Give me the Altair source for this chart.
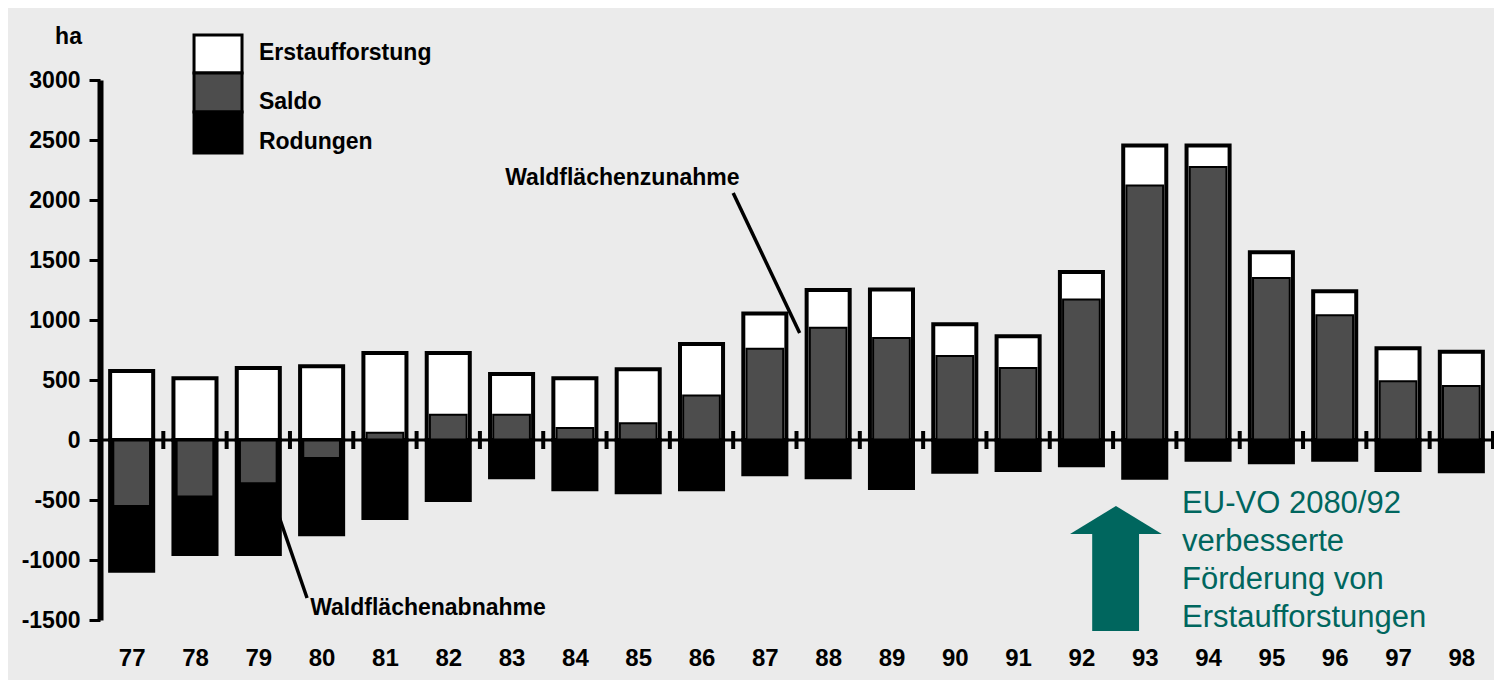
import altair as alt
import pandas as pd

# ---------------- data ----------------
years = [77, 78, 79, 80, 81, 82, 83, 84, 85, 86, 87, 88, 89, 90, 91, 92, 93, 94, 95, 96, 97, 98]
erstaufforstung = [575, 515, 600, 615, 725, 725, 550, 515, 590, 800, 1055, 1250, 1255, 965, 865,
                   1400, 2455, 2455, 1565, 1240, 765, 735]
rodungen = [-1090, -950, -950, -785, -650, -500, -310, -410, -435, -410, -285, -310, -400, -265, -250,
            -210, -315, -165, -185, -165, -250, -260]
saldo = [-550, -470, -360, -150, 60, 210, 210, 100, 140, 370, 760, 935, 850, 700, 600,
         1170, 2120, 2275, 1350, 1040, 490, 450]

y_ticks = [-1500, -1000, -500, 0, 500, 1000, 1500, 2000, 2500, 3000]
categories = ["Erstaufforstung", "Saldo", "Rodungen"]
cat_colors = ["#ffffff", "#4d4d4d", "#000000"]

# legend placement (data coordinates, drawn above the 3000 line like the original)
legend_x = [77.985, 78.743]
legend_y_edges = [3375, 3058, 2733, 2392]
legend_label_x = 79.01
legend_label_y = [3225, 2817, 2483]

# annotations (data coordinates)
zunahme_label = "Waldflächenzunahme"
zunahme_pos = [82.9, 2183]
zunahme_line = [86.5, 2058, 87.55, 892]
abnahme_label = "Waldflächenabnahme"
abnahme_pos = [79.82, -1400]
abnahme_line = [79.33, -642, 79.77, -1317]
eu_label = ["EU-VO 2080/92", "verbesserte", "Förderung von", "Erstaufforstungen"]
eu_pos = [93.59, -608]
arrow_shaft = [92.17, 92.91, -783, -1592]
arrow_head_x = [91.82, 92.545, 93.27]
arrow_head_y = [-783, -550, -783]

TEAL = "#00665e"
FONT = "Liberation Sans"

# ---------------- tables ----------------
HALF = 0.34
HALF_S = 0.29
rows = []
for yr, e, r in zip(years, erstaufforstung, rodungen):
    rows.append({"Jahr": yr, "Kategorie": "Erstaufforstung", "lo": 0, "hi": e})
    rows.append({"Jahr": yr, "Kategorie": "Rodungen", "lo": r, "hi": 0})
outer = pd.DataFrame(rows)
outer["x0"] = outer["Jahr"] - HALF
outer["x1"] = outer["Jahr"] + HALF

inner = pd.DataFrame({"Jahr": years, "Kategorie": "Saldo",
                      "lo": [min(0, s) for s in saldo], "hi": [max(0, s) for s in saldo]})
inner["x0"] = inner["Jahr"] - HALF_S
inner["x1"] = inner["Jahr"] + HALF_S

legend_df = pd.DataFrame({
    "Kategorie": categories,
    "x0": legend_x[0], "x1": legend_x[1],
    "hi": legend_y_edges[:-1], "lo": legend_y_edges[1:],
    "lx": legend_label_x, "ly": legend_label_y,
})

xs = alt.Scale(domain=[76.5, 98.5], nice=False, zero=False)
ys = alt.Scale(domain=[-1500, 3000], nice=False, zero=False)

xaxis = alt.Axis(values=years, format="d", grid=False, domain=False, ticks=False,
                 labelFont=FONT, labelFontSize=24, labelFontWeight="bold", labelColor="black",
                 labelPadding=26, labelBaseline="top", title=None)
yaxis = alt.Axis(values=y_ticks, grid=False, domainColor="black", domainWidth=6,
                 tickColor="black", tickWidth=3, tickSize=11, labelPadding=9,
                 labelFont=FONT, labelFontSize=23, labelFontWeight="bold", labelColor="black",
                 labelExpr="'' + datum.value",
                 title="ha", titleAngle=0, titleX=-32, titleY=-44, titleAlign="center",
                 titleBaseline="middle", titleFont=FONT, titleFontSize=23, titleFontWeight="bold",
                 titleColor="black")

color = alt.Color("Kategorie:N", scale=alt.Scale(domain=categories, range=cat_colors), legend=None)


def X(field):
    return alt.X(field, scale=xs, axis=xaxis, title=None)


def Y(field):
    return alt.Y(field, scale=ys, axis=yaxis, title="ha")


bars = alt.Chart(outer).mark_bar(stroke="black", strokeWidth=4, opacity=1).encode(
    x=X("x0:Q"), x2="x1:Q", y=Y("lo:Q"), y2="hi:Q", color=color)

saldo_bars = alt.Chart(inner).mark_bar(stroke="black", strokeWidth=2, opacity=1).encode(
    x=X("x0:Q"), x2="x1:Q", y=Y("lo:Q"), y2="hi:Q", color=color)

legend_boxes = alt.Chart(legend_df).mark_rect(stroke="black", strokeWidth=3, opacity=1).encode(
    x=X("x0:Q"), x2="x1:Q", y=Y("lo:Q"), y2="hi:Q", color=color)

legend_labels = alt.Chart(legend_df).mark_text(align="left", baseline="middle", font=FONT, fontSize=23,
                                               fontWeight="bold", color="black").encode(
    x=X("lx:Q"), y=Y("ly:Q"), text="Kategorie:N")

zero_df = pd.DataFrame({"a": [76.5], "b": [98.5], "y": [0]})
zero_line = alt.Chart(zero_df).mark_rule(color="black", strokeWidth=3).encode(
    x=X("a:Q"), x2="b:Q", y=Y("y:Q"))

tick_df = pd.DataFrame({"t": [y + 0.5 for y in years], "lo": -75, "hi": 75})
zero_ticks = alt.Chart(tick_df).mark_rule(color="black", strokeWidth=4).encode(
    x=X("t:Q"), y=Y("lo:Q"), y2="hi:Q")

lines_df = pd.DataFrame({"xa": [zunahme_line[0], abnahme_line[0]], "ya": [zunahme_line[1], abnahme_line[1]],
                         "xb": [zunahme_line[2], abnahme_line[2]], "yb": [zunahme_line[3], abnahme_line[3]]})
ann_lines = alt.Chart(lines_df).mark_rule(color="black", strokeWidth=3.5).encode(
    x=X("xa:Q"), y=Y("ya:Q"), x2="xb:Q", y2="yb:Q")

text_df = pd.DataFrame({"x": [zunahme_pos[0], abnahme_pos[0]], "y": [zunahme_pos[1], abnahme_pos[1]],
                        "label": [zunahme_label, abnahme_label]})
ann_text = alt.Chart(text_df).mark_text(align="left", baseline="middle", font=FONT, fontSize=23,
                                        fontWeight="bold", color="black").encode(
    x=X("x:Q"), y=Y("y:Q"), text="label:N")

shaft_df = pd.DataFrame({"a": [arrow_shaft[0]], "b": [arrow_shaft[1]], "c": [arrow_shaft[2]], "d": [arrow_shaft[3]]})
shaft = alt.Chart(shaft_df).mark_rect(color=TEAL).encode(
    x=X("a:Q"), x2="b:Q", y=Y("c:Q"), y2="d:Q")

head_df = pd.DataFrame({"x": arrow_head_x, "y": arrow_head_y, "base": arrow_head_y[0]})
head = alt.Chart(head_df).mark_area(color=TEAL, opacity=1).encode(
    x=X("x:Q"), y=Y("y:Q"), y2="base:Q")

eu_df = pd.DataFrame({"x": [eu_pos[0]], "y": [eu_pos[1]], "label": ["\n".join(eu_label)]})
eu_text = alt.Chart(eu_df).mark_text(align="left", baseline="alphabetic", font=FONT, fontSize=31,
                                     color=TEAL, lineBreak="\n", lineHeight=38).encode(
    x=X("x:Q"), y=Y("y:Q"), text="label:N")

chart = alt.layer(bars, saldo_bars, zero_line, zero_ticks, ann_lines, ann_text, shaft, head, eu_text,
                  legend_boxes, legend_labels).properties(
    width=1393, height=540,
    autosize=alt.AutoSizeParams(type="none"),
    padding={"left": 92, "top": 72, "right": 1, "bottom": 60},
    background="#ebebeb",
).configure_view(stroke=None)

chart.save("out.html", embed_options={"renderer": "svg", "actions": False})
